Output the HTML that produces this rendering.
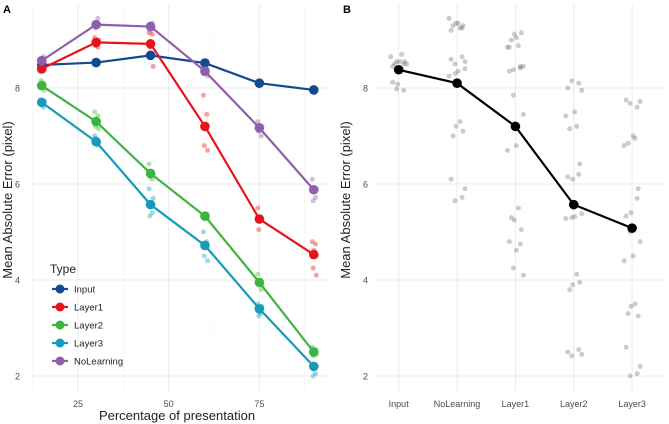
<!DOCTYPE html>
<html><head><meta charset="utf-8"><style>
body{margin:0;background:#fff}
svg{font-family:"Liberation Sans",sans-serif;display:block}
</style></head><body>
<svg id="c" width="669" height="424"></svg>
<script>
const xValues=[15,30,45,60,75,90];
const seriesNames=["Input","Layer1","Layer2","Layer3","NoLearning"];
const meanInput=[8.48,8.53,8.68,8.52,8.1,7.96];
const meanLayer1=[8.4,8.95,8.92,7.2,5.27,4.53];
const meanLayer2=[8.05,7.3,6.22,5.33,3.95,2.5];
const meanLayer3=[7.7,6.88,5.57,4.72,3.4,2.2];
const meanNoLearning=[8.57,9.32,9.28,8.35,7.17,5.88];
const ptsInput=[[8.45,8.5,8.55],[8.5,8.55],[8.65,8.7],[8.5,8.55],[8.08,8.12],[7.95,7.98]];
const ptsLayer1=[[8.35,8.42,8.38,8.45],[9.05,8.85,8.88,9.0],[9.15,9.12,8.85,8.45],[7.85,7.45,6.8,6.7],[5.5,5.3,5.05,5.25],[4.8,4.75,4.25,4.1,4.62]];
const ptsLayer2=[[8.0,8.1,8.15,7.95],[7.5,7.42,7.2,7.15],[6.42,6.1,6.15,6.2],[5.3,5.38,5.32,5.28],[4.12,3.8,3.95,3.9],[2.5,2.55,2.42,2.45]];
const ptsLayer3=[[7.75,7.6,7.68,7.72],[7.0,6.8,6.95,6.85],[5.9,5.4,5.33,5.7],[5.0,4.8,4.5,4.4],[3.5,3.3,3.25,3.45],[2.6,2.05,2.0,2.2]];
const ptsNoLearning=[[8.6,8.65,8.5,8.55],[9.35,9.45,9.25,9.3],[9.3,9.35,9.2,9.25],[8.3,8.4,8.35,8.25],[7.3,7.0,7.1,7.2],[6.1,5.72,5.65,5.9]];
const bCategories=["Input","NoLearning","Layer1","Layer2","Layer3"];
const bMeans=[8.38,8.1,7.2,5.57,5.08];
const yTicks=[2,4,6,8];
const xTicks=[25,50,75];

const colors={Input:"#12498f",Layer1:"#e8141c",Layer2:"#3db43d",Layer3:"#169ab9",NoLearning:"#8f5fa9"};
const means={Input:meanInput,Layer1:meanLayer1,Layer2:meanLayer2,Layer3:meanLayer3,NoLearning:meanNoLearning};
const pts={Input:ptsInput,Layer1:ptsLayer1,Layer2:ptsLayer2,Layer3:ptsLayer3,NoLearning:ptsNoLearning};
const svg=document.getElementById('c');const NS="http://www.w3.org/2000/svg";
function mk(t,a,p){const e=document.createElementNS(NS,t);for(const k in a)e.setAttribute(k,a[k]);(p||svg).appendChild(e);return e;}
const y=v=>376-(v-2)*48;
const xA=v=>78+(v-25)*3.627;
const xB=i=>398.7+i*58.35;

const gA=mk('g',{});

for(let v=1.5;v<=9.6;v+=0.5){if(v%1!==0)continue;const major=v%2===0;mk('line',{x1:33,x2:329,y1:y(v),y2:y(v),stroke:major?"#ebebeb":"#f4f4f4","stroke-width":major?1:0.6},gA);}
for(let v=12.5;v<=93;v+=12.5){const major=v%25===0;mk('line',{x1:xA(v),x2:xA(v),y1:4,y2:391,stroke:major?"#ebebeb":"#f4f4f4","stroke-width":major?1:0.6},gA);}
const gB=mk('g',{});

for(let v=1.5;v<=9.6;v+=0.5){if(v%1!==0)continue;const major=v%2===0;mk('line',{x1:373,x2:666,y1:y(v),y2:y(v),stroke:major?"#ebebeb":"#f4f4f4","stroke-width":major?1:0.6},gB);}
bCategories.forEach((c,i)=>mk('line',{x1:xB(i),x2:xB(i),y1:4,y2:391,stroke:"#ebebeb"},gB));

yTicks.forEach(v=>{let t=mk('text',{x:20,y:y(v)+3.5,"font-size":9,fill:"#4d4d4d","text-anchor":"end"});t.textContent=v;
 t=mk('text',{x:368,y:y(v)+3.5,"font-size":9,fill:"#4d4d4d","text-anchor":"end"});t.textContent=v;});
xTicks.forEach(v=>{const t=mk('text',{x:xA(v),y:407,"font-size":9,fill:"#4d4d4d","text-anchor":"middle"});t.textContent=v;});
bCategories.forEach((c,i)=>{const t=mk('text',{x:xB(i),y:407,"font-size":9,fill:"#4d4d4d","text-anchor":"middle"});t.textContent=c;});
let t=mk('text',{x:177,y:420,"font-size":13,fill:"#222","text-anchor":"middle"});t.textContent="Percentage of presentation";
t=mk('text',{transform:"translate(12,200) rotate(-90)","font-size":13,fill:"#222","text-anchor":"middle"});t.textContent="Mean Absolute Error (pixel)";
t=mk('text',{transform:"translate(350,200) rotate(-90)","font-size":13,fill:"#222","text-anchor":"middle"});t.textContent="Mean Absolute Error (pixel)";
t=mk('text',{x:3,y:13,"font-size":11,"font-weight":"bold"});t.textContent="A";
t=mk('text',{x:343,y:13,"font-size":11,"font-weight":"bold"});t.textContent="B";

const jit=[-1.5,1.8,-0.6,2.6,0.4];
seriesNames.forEach(s=>{
 const g=mk('g',{});
 
 pts[s].forEach((arr,i)=>arr.forEach((v,j)=>{const c=mk('circle',{cx:xA(xValues[i])+jit[j%5],cy:y(v),r:2.5,fill:colors[s],"fill-opacity":0.4},g);}));
 const l=mk('polyline',{points:means[s].map((v,i)=>xA(xValues[i])+","+y(v)).join(" "),fill:"none",stroke:colors[s],"stroke-width":2.2},g);
 
 means[s].forEach((v,i)=>{const c=mk('circle',{cx:xA(xValues[i]),cy:y(v),r:4.8,fill:colors[s]},g);});
});
const lg=mk('g',{});

t=mk('text',{x:50,y:273,"font-size":12,fill:"#222"},lg);t.textContent="Type";
seriesNames.forEach((s,i)=>{const yy=289+i*18;
 const e=mk('g',{},lg);
 mk('line',{x1:52,x2:68,y1:yy,y2:yy,stroke:colors[s],"stroke-width":2.2},e);mk('circle',{cx:60,cy:yy,r:4.5,fill:colors[s]},e);
 const tt=mk('text',{x:74,y:yy+3.5,"font-size":9.5,fill:"#222"},e);tt.textContent=s;});
const gp=mk('g',{});

const jb=[-6,5,-2,8,1,-8,3,-4,6,-1];
bCategories.forEach((c,i)=>{let k=0;pts[c].forEach(arr=>arr.forEach(v=>{const p=mk('circle',{cx:xB(i)+jb[k%10],cy:y(v),r:2.5,fill:"#555","fill-opacity":0.3},gp);k++;}));});
const bl=mk('polyline',{points:bMeans.map((v,i)=>xB(i)+","+y(v)).join(" "),fill:"none",stroke:"#000","stroke-width":2.2});

bMeans.forEach((v,i)=>{const c=mk('circle',{cx:xB(i),cy:y(v),r:4.8,fill:"#000"});});
</script>
</body></html>
